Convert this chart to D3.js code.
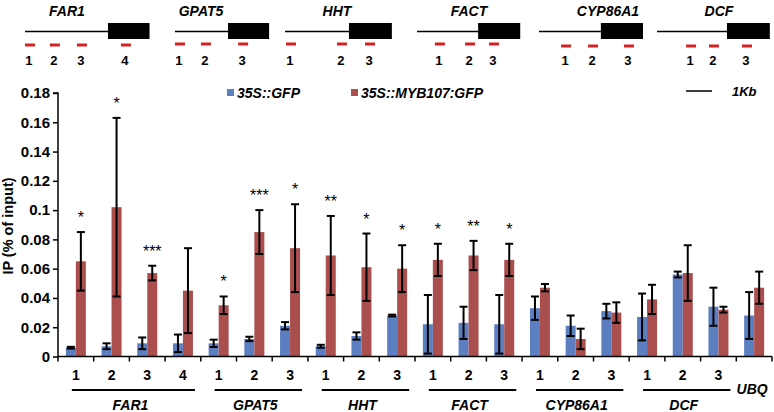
<!DOCTYPE html>
<html lang="en">
<head>
<meta charset="utf-8">
<script src="https://cdnjs.cloudflare.com/ajax/libs/d3/7.8.5/d3.min.js"></script>
<style>
  body { margin: 0; background: #fff; }
  svg { display: block; font-family: "Liberation Sans", Arial, sans-serif; }
</style>
</head>
<body>
<svg id="chart" width="774" height="412"></svg>
<script>
// ---- data ----
const genes = ["FAR1", "GPAT5", "HHT", "FACT", "CYP86A1", "DCF"];
const groupSizes = [4, 3, 3, 3, 3, 3];            // amplicons per gene, then UBQ
const ampliconLabels = ["1","2","3","4","1","2","3","1","2","3","1","2","3","1","2","3","1","2","3",""];
const gfpMean  = [0.006, 0.007, 0.009, 0.009, 0.009, 0.012, 0.021, 0.007, 0.014, 0.028, 0.022, 0.023, 0.022, 0.033, 0.021, 0.031, 0.027, 0.056, 0.034, 0.028];
const gfpErr   = [0.0006, 0.002, 0.004, 0.006, 0.0025, 0.0015, 0.0025, 0.001, 0.0025, 0.0006, 0.020, 0.011, 0.020, 0.008, 0.007, 0.005, 0.016, 0.002, 0.013, 0.016];
const mybMean  = [0.065, 0.102, 0.057, 0.045, 0.035, 0.085, 0.074, 0.069, 0.061, 0.060, 0.066, 0.069, 0.066, 0.047, 0.012, 0.030, 0.039, 0.057, 0.032, 0.047];
const mybErr   = [0.020, 0.061, 0.005, 0.029, 0.006, 0.015, 0.030, 0.027, 0.023, 0.016, 0.011, 0.010, 0.011, 0.0025, 0.007, 0.007, 0.010, 0.019, 0.002, 0.011];
const stars    = ["*", "*", "***", "", "*", "***", "*", "**", "*", "*", "*", "**", "*", "", "", "", "", "", "", ""];
const yTicks   = [0, 0.02, 0.04, 0.06, 0.08, 0.1, 0.12, 0.14, 0.16, 0.18];
const series   = ["35S::GFP", "35S::MYB107:GFP"];
// gene models in kb: promoter length, gene body length, primer centres
const promoterKb = [3.19, 2.04, 2.46, 2.35, 2.38, 2.69];
const bodyKb     = [1.60, 1.58, 1.65, 1.62, 1.62, 1.65];
const primerKb   = [[0.19, 1.15, 2.19, 3.88], [0.19, 1.19, 2.62], [0.23, 2.19, 3.27], [0.88, 2.04, 2.96], [1.04, 2.08, 3.46], [1.31, 2.19, 3.46]];

const colors = ["#5b7fc0", "#aa4e4e"];
const svg = d3.select("#chart");

// ---- gene diagrams ----
const kb = 26;  // px per kb
const geneLeft = [25, 175, 285, 417, 539, 657];
const titleX = [67, 201, 337, 469, 608, 719];
const primerY = [45, 44, 44, 44, 46, 46];
genes.forEach((g, i) => {
  const x = d3.scaleLinear().domain([0, 1]).range([geneLeft[i], geneLeft[i] + kb]);
  const gg = svg.append("g");
  gg.append("line").attr("x1", x(0)).attr("x2", x(promoterKb[i]))
    .attr("y1", 31.5).attr("y2", 31.5).attr("stroke", "#000").attr("stroke-width", 1.5);
  gg.append("rect").attr("x", x(promoterKb[i])).attr("y", 23)
    .attr("width", x(promoterKb[i] + bodyKb[i]) - x(promoterKb[i])).attr("height", 16).attr("fill", "#000");
  gg.append("text").attr("x", titleX[i]).attr("y", 16)
    .attr("text-anchor", "middle").attr("font-weight", "bold").attr("font-style", "italic")
    .attr("font-size", 14).text(g);
  primerKb[i].forEach((p, j) => {
    gg.append("line").attr("x1", x(p) - 5).attr("x2", x(p) + 5)
      .attr("y1", primerY[i]).attr("y2", primerY[i]).attr("stroke", "#d42020").attr("stroke-width", 3);
    gg.append("text").attr("x", x(p) - 1).attr("y", 65).attr("text-anchor", "middle")
      .attr("font-weight", "bold").attr("font-size", 13).text(j + 1);
  });
});

// ---- bar chart ----
const n = gfpMean.length;
const x = d3.scaleBand().domain(d3.range(n)).range([58, 772]);
const y = d3.scaleLinear().domain([0, 0.18]).range([356.5, 93]);
const barW = 10;

// y axis
const yAxis = svg.append("g").attr("transform", "translate(58,0)")
  .call(d3.axisLeft(y).tickValues(yTicks).tickSize(5).tickFormat(d => String(+d.toFixed(2))));
yAxis.select(".domain").attr("stroke-width", 1.5).attr("d", `M-5,${y(0.18)}H0V${y(0)}`);
yAxis.selectAll(".tick line").attr("stroke-width", 1.5);
yAxis.selectAll(".tick text").attr("font-size", 15).attr("font-weight", "bold")
  .attr("font-family", "Liberation Sans, Arial, sans-serif").attr("fill", "#000").attr("x", -8);

svg.append("text").attr("transform", "translate(13,226) rotate(-90)")
  .attr("text-anchor", "middle").attr("font-weight", "bold").attr("font-size", 14.5)
  .text("IP (% of input)");

// bars
const bars = svg.append("g");
const groupsData = d3.range(n);
[gfpMean, mybMean].forEach((vals, s) => {
  const errs = s === 0 ? gfpErr : mybErr;
  const off = s === 0 ? -barW : 0;
  bars.selectAll(null).data(groupsData).join("rect")
    .attr("x", i => x(i) + x.bandwidth() / 2 + off)
    .attr("y", i => y(vals[i]))
    .attr("width", barW)
    .attr("height", i => y(0) - y(vals[i]))
    .attr("fill", colors[s]);
  const eb = bars.selectAll(null).data(groupsData).join("g")
    .attr("transform", i => `translate(${x(i) + x.bandwidth() / 2 + off + barW / 2},0)`);
  eb.append("line").attr("y1", i => y(vals[i] + errs[i])).attr("y2", i => y(Math.max(0, vals[i] - errs[i])))
    .attr("stroke", "#000").attr("stroke-width", 2);
  eb.append("line").attr("x1", -4).attr("x2", 4).attr("y1", i => y(vals[i] + errs[i])).attr("y2", i => y(vals[i] + errs[i]))
    .attr("stroke", "#000").attr("stroke-width", 2);
  eb.append("line").attr("x1", -4).attr("x2", 4).attr("y1", i => y(Math.max(0, vals[i] - errs[i]))).attr("y2", i => y(Math.max(0, vals[i] - errs[i])))
    .attr("stroke", "#000").attr("stroke-width", 2);
});

// significance stars
svg.append("g").selectAll("text").data(groupsData.filter(i => stars[i])).join("text")
  .attr("x", i => x(i) + x.bandwidth() / 2 + barW / 2)
  .attr("y", i => y(mybMean[i] + mybErr[i]) - 9)
  .attr("text-anchor", "middle").attr("font-size", 16).text(i => stars[i]);

// x axis
const xAxisG = svg.append("g");
xAxisG.append("line").attr("x1", 58).attr("x2", 772).attr("y1", y(0)).attr("y2", y(0))
  .attr("stroke", "#000").attr("stroke-width", 1.5);
xAxisG.selectAll(".xt").data(d3.range(n + 1)).join("line")
  .attr("x1", i => 58 + i * x.step()).attr("x2", i => 58 + i * x.step())
  .attr("y1", y(0)).attr("y2", y(0) + 5).attr("stroke", "#000").attr("stroke-width", 1.5);
xAxisG.selectAll("text").data(groupsData).join("text")
  .attr("x", i => x(i) + x.bandwidth() / 2).attr("y", 380)
  .attr("text-anchor", "middle").attr("font-weight", "bold").attr("font-size", 14)
  .text(i => ampliconLabels[i]);

// gene group lines and labels
let start = 0;
genes.forEach((g, gi) => {
  const first = start, last = start + groupSizes[gi] - 1;
  const x1 = x(first) + x.bandwidth() / 2 - 4, x2 = x(last) + x.bandwidth() / 2 + 12;
  svg.append("line").attr("x1", x1).attr("x2", x2).attr("y1", 390).attr("y2", 390)
    .attr("stroke", "#000").attr("stroke-width", 2);
  svg.append("text").attr("x", (x1 + x2) / 2 - 3).attr("y", 410).attr("text-anchor", "middle")
    .attr("font-weight", "bold").attr("font-style", "italic").attr("font-size", 14).text(g);
  start += groupSizes[gi];
});
svg.append("text").attr("x", x(n - 1) + x.bandwidth() / 2 - 2).attr("y", 394).attr("text-anchor", "middle")
  .attr("font-weight", "bold").attr("font-style", "italic").attr("font-size", 14).text("UBQ");

// legend
const legX = [227, 351];
series.forEach((s, i) => {
  svg.append("rect").attr("x", legX[i]).attr("y", 89).attr("width", 7).attr("height", 7).attr("fill", colors[i]);
  svg.append("text").attr("x", legX[i] + 10).attr("y", 98).attr("font-weight", "bold").attr("font-style", "italic")
    .attr("font-size", 14).text(s);
});
// scale bar
svg.append("line").attr("x1", 686).attr("x2", 686 + kb).attr("y1", 91).attr("y2", 91).attr("stroke", "#000").attr("stroke-width", 1.5);
svg.append("text").attr("x", 732).attr("y", 96).attr("font-weight", "bold").attr("font-style", "italic")
  .attr("font-size", 13).text("1Kb");
</script>
</body>
</html>
